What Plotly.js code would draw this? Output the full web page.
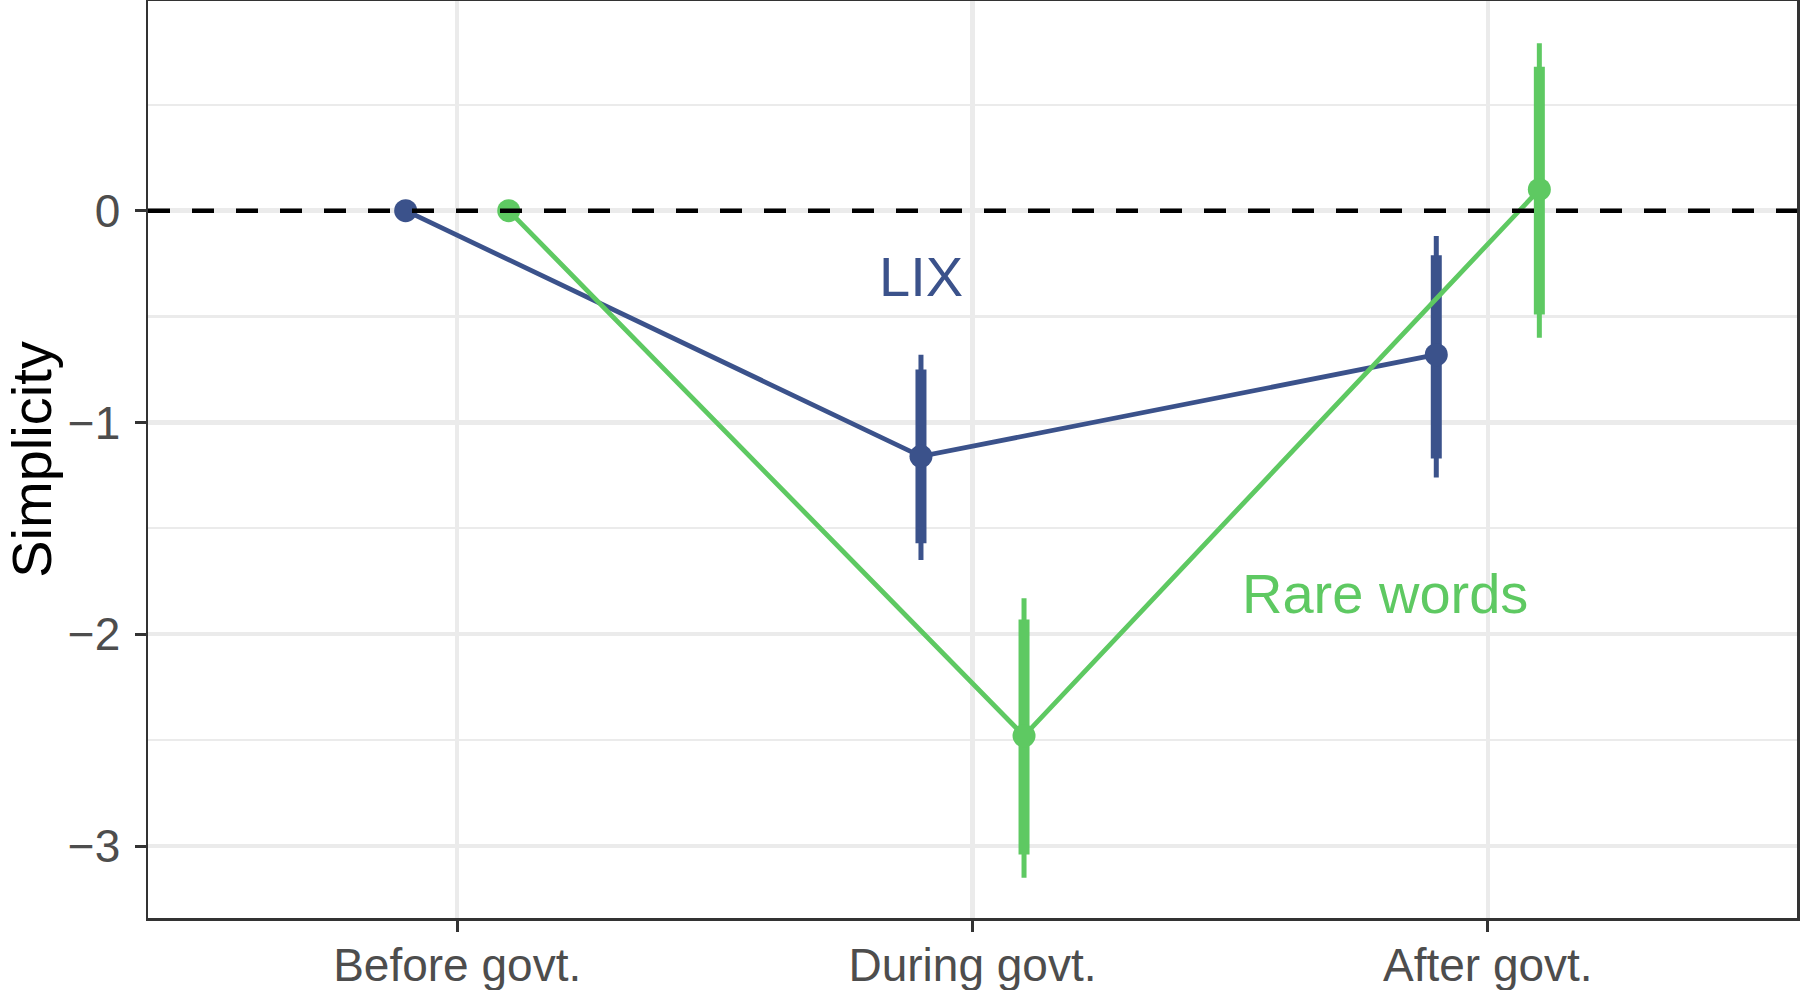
<!DOCTYPE html>
<html>
<head>
<meta charset="utf-8">
<script src="https://cdn.plot.ly/plotly-3.0.1.min.js"></script>
<style>
  html, body { margin: 0; padding: 0; background: #ffffff; }
  #chart { width: 1800px; height: 990px; }
</style>
</head>
<body>
<div id="chart"></div>
<script>
// periods on the x axis
var categories = ['Before govt.', 'During govt.', 'After govt.'];

// LIX estimates and intervals (inner = thick, outer = thin)
var lixValues = [0, -1.16, -0.68];
var lixInnerLow = [0, -1.57, -1.17];
var lixInnerHigh = [0, -0.75, -0.21];
var lixOuterLow = [0, -1.65, -1.26];
var lixOuterHigh = [0, -0.68, -0.12];

// Rare words estimates and intervals
var rareValues = [0, -2.48, 0.10];
var rareInnerLow = [0, -3.04, -0.49];
var rareInnerHigh = [0, -1.93, 0.68];
var rareOuterLow = [0, -3.15, -0.60];
var rareOuterHigh = [0, -1.83, 0.79];

var lixColor = '#3b528b';
var rareColor = '#5ec962';
var dodge = 0.1;
var font = '"Liberation Sans", Arial, sans-serif';

function xs(offset) {
    var out = [];
    for (var i = 0; i < categories.length; i++) out.push(i + 1 + offset);
    return out;
}
function diff(a, b) {
    var out = [];
    for (var i = 0; i < a.length; i++) out.push(Math.abs(a[i] - b[i]));
    return out;
}

function series(name, vals, inLo, inHi, outLo, outHi, color, offset) {
    var x = xs(offset);
    return [
        {
            x: x, y: vals, type: 'scatter', mode: 'markers',
            marker: {size: 0.1, color: color, opacity: 0},
            error_y: {type: 'data', symmetric: false,
                array: diff(outHi, vals), arrayminus: diff(vals, outLo),
                color: color, thickness: 5, width: 0},
            hoverinfo: 'skip', showlegend: false
        },
        {
            x: x, y: vals, type: 'scatter', mode: 'markers',
            marker: {size: 0.1, color: color, opacity: 0},
            error_y: {type: 'data', symmetric: false,
                array: diff(inHi, vals), arrayminus: diff(vals, inLo),
                color: color, thickness: 11, width: 0},
            hoverinfo: 'skip', showlegend: false
        },
        {
            x: x, y: vals, type: 'scatter', mode: 'lines+markers', name: name,
            line: {color: color, width: 4.8},
            marker: {color: color, size: 23},
            showlegend: false
        }
    ];
}

var data = [].concat(
    series('LIX', lixValues, lixInnerLow, lixInnerHigh, lixOuterLow, lixOuterHigh, lixColor, -dodge),
    series('Rare words', rareValues, rareInnerLow, rareInnerHigh, rareOuterLow, rareOuterHigh, rareColor, dodge)
);

var layout = {
    width: 1800,
    height: 990,
    paper_bgcolor: '#ffffff',
    plot_bgcolor: '#ffffff',
    showlegend: false,
    margin: {l: 148, r: 3, t: 1, b: 72, pad: 0},
    font: {family: font, color: '#4d4d4d'},
    xaxis: {
        range: [0.4, 3.6],
        tickmode: 'array',
        tickvals: [1, 2, 3],
        ticktext: categories,
        ticks: 'outside', ticklen: 11, tickwidth: 3, tickcolor: '#333333',
        tickfont: {size: 46, color: '#4d4d4d', family: font},
        ticklabelstandoff: -6,
        showline: true, linecolor: '#333333', linewidth: 2.5, mirror: true,
        showgrid: true, gridcolor: '#ebebeb', gridwidth: 4.5,
        zeroline: false
    },
    yaxis: {
        range: [-3.34, 0.99],
        tickmode: 'array',
        tickvals: [-3, -2, -1, 0],
        ticks: 'outside', ticklen: 11, tickwidth: 3, tickcolor: '#333333',
        tickfont: {size: 46, color: '#4d4d4d', family: font},
        ticklabelstandoff: 5,
        showline: true, linecolor: '#333333', linewidth: 2.5, mirror: true,
        showgrid: true, gridcolor: '#ebebeb', gridwidth: 4.5,
        minor: {tickvals: [-2.5, -1.5, -0.5, 0.5], showgrid: true, gridcolor: '#ebebeb', gridwidth: 2.3, ticks: ''},
        zeroline: false,
        title: {text: 'Simplicity', font: {size: 56, color: '#000000', family: font}, standoff: 16}
    },
    shapes: [
        {type: 'line', xref: 'paper', yref: 'y', x0: 0, x1: 1, y0: 0, y1: 0,
         line: {color: '#000000', width: 4.5, dash: '22px,22px'}, layer: 'above'}
    ],
    annotations: [
        {x: 1.9, y: -0.31, xref: 'x', yref: 'y', text: 'LIX', showarrow: false,
         font: {size: 56, color: lixColor, family: font}},
        {x: 2.8, y: -1.81, xref: 'x', yref: 'y', text: 'Rare words', showarrow: false,
         font: {size: 56, color: rareColor, family: font}}
    ]
};

Plotly.newPlot('chart', data, layout, {displayModeBar: false, staticPlot: true});
</script>
</body>
</html>
